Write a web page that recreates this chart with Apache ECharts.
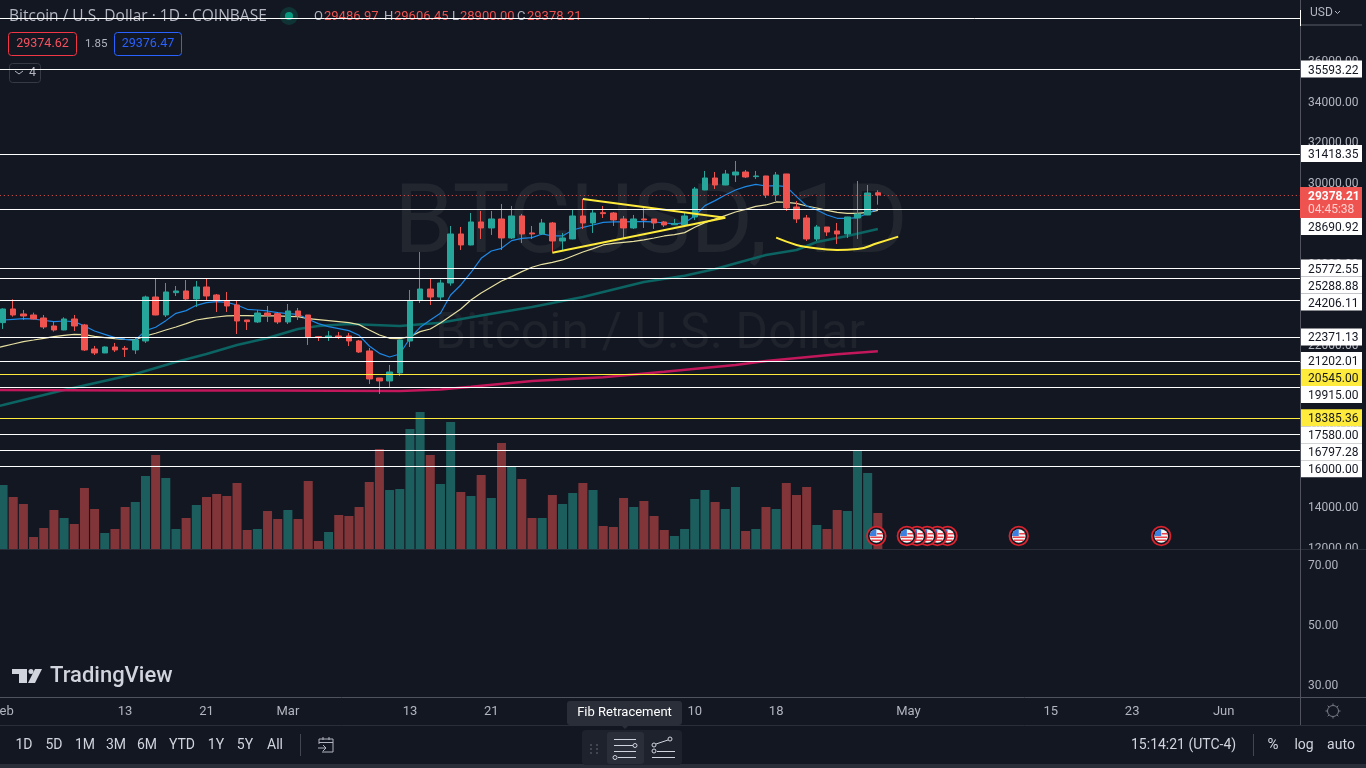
<!DOCTYPE html>
<html>
<head>
<meta charset="utf-8">
<title>BTCUSD</title>
<style>
  html, body { margin: 0; padding: 0; background: #131722; }
  #view { width: 1366px; height: 768px; }
</style>
<script src="https://cdn.jsdelivr.net/npm/echarts@6/dist/echarts.min.js"></script>
</head>
<body>
<div id="view"></div>
<script>
// daily candles, Feb 1 to Apr 28
var opens = [23076,23750,23504,23454,23306,22911,22714,23257,22961,21776,
  21579,21875,21809,21727,22171,24342,23454,24556,24639,24244,
  24836,24441,24162,23948,23207,23109,23553,23520,23109,23652,
  23454,22385,22369,22418,22418,22171,21678,20345,20197,20592,
  22171,24194,24737,24342,25033,27453,26910,28045,27749,28193,
  27255,28341,27502,27453,27995,27107,27206,28341,27995,28505,
  28489,28193,27749,28193,28193,28045,27913,27897,28292,29624,
  30216,29871,30364,30512,30282,30315,29377,30414,28785,28242,
  27206,27798,27601,27453,28242,28390,29486.97]
var closes = [23750,23454,23405,23257,22862,22714,23257,22911,21727,21579,
  21875,21727,21760,22220,24342,23454,24589,24639,24244,24836,
  24392,24194,23898,23158,23125,23553,23438,23109,23652,23405,
  22369,22352,22418,22352,22171,21628,20296,20197,20641,22220,
  24162,24737,24342,25033,27453,26910,28045,27749,28193,27255,
  28341,27453,27453,27995,27107,27255,28341,27995,28489,28456,
  28143,27749,28193,28143,27995,27897,27962,28341,29673,30216,
  29871,30414,30512,30265,30315,29377,30364,28736,28193,27206,
  27798,27551,27453,28292,28440,29476,29378.21]
var highs = [23783,24227,23701,23569,23454,23125,23339,23454,23010,21924,
  21908,22072,21924,22352,24408,25231,25033,24885,25181,25132,
  25231,24491,24589,24145,23207,23701,23898,23602,23997,23800,
  23454,22418,22665,22615,22566,22220,21826,20345,20987,22240,
  24688,26563,25231,25200,27847,27798,28489,28588,28588,28933,
  28834,28440,27847,28193,28045,27502,28637,29180,28637,28834,
  28538,28341,28390,28785,28193,28094,28193,28489,29772,30562,
  30512,30611,31055,30611,30562,30320,30512,30420,29081,28390,
  27897,27800,27995,28300,30068,29871,29606.45]
var lows = [22763,23372,23207,23230,22763,22632,22700,22665,21678,21480,
  21570,21628,21381,21530,22072,23440,23355,24392,24194,23849,
  24194,23602,23602,22517,22714,23059,23109,23010,23010,23207,
  21974,22171,22171,22270,21924,21579,20049,19556,19901,20444,
  21875,24046,23948,24190,24900,26663,26890,27206,27403,26663,
  27206,27008,27206,27403,26564,26663,27190,27699,27502,28242,
  27847,27255,27699,27749,27699,27798,27897,27890,28143,29610,
  29673,29860,30019,30216,30167,29229,29081,28588,27995,27107,
  27107,27354,26959,27255,27206,28380,28900]
var volumes = [6400,5200,4500,1200,2100,3900,3100,2500,6100,4000,
  1600,2000,4200,4700,7300,9400,7100,2000,3100,4400,
  5200,5500,5300,6600,1900,2000,3800,3000,3900,3000,
  6800,800,1700,3400,3300,4200,6700,10000,5900,6000,
  12000,13700,9400,6500,12700,5700,5300,7400,5100,10600,
  8200,7000,3100,3100,5400,4500,5600,6600,5900,2300,
  2200,5100,4200,4800,3300,1900,1300,2000,5000,5900,
  4700,4000,6200,1800,2000,4200,4000,6600,5400,6200,
  2400,2000,3900,3800,9800,7600,3600]

// moving averages, one reading per bar, starting one bar off the left edge (Jan 31)
var blueLine = [23190,23207,23240,23273,23257,23191,23125,23158,23125,22911,22665,
  22500,22336,22253,22204,22681,22846,23175,23537,23668,23931,
  24063,24112,24079,23948,23734,23701,23652,23569,23520,23487,
  23240,23027,22879,22780,22681,22451,21924,21562,21381,21530,
  22303,22846,23207,23537,24441,24934,25551,26252,26614,26745,
  27124,27239,27272,27453,27354,27354,27650,27782,27897,28028,
  28045,28045,28061,28061,28045,27995,27946,28012,28341,28851,
  29098,29377,29624,29789,29904,29821,29838,29789,29295,28834,
  28637,28390,28226,28226,28259,28472,28686]
var creamLine = [21790,21908,22023,22138,22220,22303,22385,22451,22500,22484,22401,
  22336,22286,22253,22237,22418,22550,22714,22862,23027,23207,
  23290,23355,23405,23421,23421,23405,23405,23405,23388,23372,
  23273,23224,23175,23125,23076,22977,22714,22467,22303,22286,
  22385,22632,22763,23060,23404,23750,24194,24539,24835,25132,
  25347,25594,25808,25956,26054,26170,26367,26564,26729,26910,
  26992,27041,27091,27157,27255,27354,27420,27518,27782,28012,
  28193,28357,28538,28670,28818,28884,29032,29015,28966,28834,
  28736,28621,28522,28473,28473,28522,28621]
// slower averages, read at the bars where they bend (bar 1 is Feb 1)
var tealBars = [0,1,7,14,18,21,24,27,30,32,35,40,44,48,53,58,64,68,71,76,79,81,84,87]
var tealValues = [18900,19011,19751,20541,21133,21528,21973,22318,22762,22910,23009,22910,23073,23428,23848,24342,25082,25393,25724,26415,26662,27057,27353,27698]
var pinkBars = [0,14,27,40,44,47,53,60,66,73,76,83,87]
var pinkValues = [19751,19727,19727,19702,19776,19914,20196,20378,20655,20985,21183,21514,21662]

// hand drawn lines on the chart
var wedgeUpperBars = [58,72]
var wedgeUpperValues = [29179,28256]
var wedgeLowerBars = [55,72]
var wedgeLowerValues = [26528,28256]
var cupBars = [77,79,80,83,85,87,89]
var cupValues = [27269,26908,26810,26662,26711,27007,27320]

var topLevel = 38113
var levelValues = [35593.22,31418.35,28690.92,25772.55,25288.88,24206.11,22371.13,21202.01,20545.00,19915.00,18385.36,17580.00,16797.28,16000.00]
var yellowLevels = [20545.00,18385.36]

var priceTicks = [36000,34000,32000,30000,28000,26000,24000,22000,20000,18000,16000,14000,12000]
var oscTicks = [70,50,30]

var monthNames = ['Feb','Mar','Apr','May','Jun']
var monthLengths = [28,31,30,31,8]
var tickDates = ['Feb 1','Feb 13','Feb 21','Mar 1','Mar 13','Mar 21','Apr 1','Apr 10','Apr 18','May 1','May 15','May 23','Jun 1']
var tickLabels = ['Feb','13','21','Mar','13','21','Apr','10','18','May','15','23','Jun']
var eventDates = ['May 26','May 12','May 5','May 4','May 3','May 2','May 1','Apr 28']

var categories = ['Jan 31']
monthNames.forEach(function (name, m) {
  for (var d = 1; d <= monthLengths[m]; d++) categories.push(name + ' ' + d)
})

var BG = '#131722'
var UP = '#26a69a'
var DOWN = '#ef5350'
var FONT = 'Roboto, sans-serif'
var lastClose = closes[closes.length - 1]

var priceMin = 11903, priceMax = 39001
var paneH = 549
var pxPerPrice = paneH / (priceMax - priceMin)
function priceY (p) { return (priceMax - p) * pxPerPrice }

// price tags get pushed down when they would sit on top of each other
var tagH = 17
var tagY = []
var floorY = -100
var lastDone = false
levelValues.forEach(function (v) {
  if (!lastDone && v < lastClose) {
    floorY = priceY(lastClose) + 23 + tagH / 2
    lastDone = true
  }
  var y = Math.max(priceY(v), floorY)
  tagY.push(y)
  floorY = y + tagH
})

function pts (bars, values) {
  return bars.map(function (b, i) { return [b, values[i]] })
}

function txt (x, y, s, color, size, align, weight, family) {
  return { type: 'text', z: 1, style: { x: x, y: y, text: s, fill: color, font: (weight || 'normal') + ' ' + size + 'px ' + (family || FONT), textAlign: align || 'left', textVerticalAlign: 'middle' } }
}
function box (x, y, w, h, fill, stroke, r, z) {
  return { type: 'rect', z: z || 1, shape: { x: x, y: y, width: w, height: h, r: r || 0 }, style: { fill: fill || 'none', stroke: stroke || 'none', lineWidth: 1 } }
}
function seg (x1, y1, x2, y2, color, z) {
  return { type: 'line', z: z || 1, shape: { x1: x1, y1: y1, x2: x2, y2: y2 }, style: { stroke: color, lineWidth: 1 } }
}
function dot (x, y, r, fill, stroke, z) {
  return { type: 'circle', z: z || 1, shape: { cx: x, cy: y, r: r }, style: { fill: fill || 'none', stroke: stroke || 'none', lineWidth: 1 } }
}
function above (el) { el.z = 30; return el }

// axis numbers sit a little under their tick, as on the original scale
function axisPrice (v) { return '{n|' + v.toFixed(2) + '}' }
var axisRich = { n: { color: '#b2b5be', fontSize: 12, fontFamily: FONT, padding: [3, 0, 0, 0] } }

var gfx = []
// watermark
gfx.push({ type: 'text', z: 0, style: { x: 651, y: 228, text: 'BTCUSD, 1D', fill: '#22262f', font: '96px ' + FONT, textAlign: 'center', textVerticalAlign: 'middle' } })
gfx.push({ type: 'text', z: 0, style: { x: 650, y: 335, text: 'Bitcoin / U.S. Dollar', fill: '#1f232c', font: '50px ' + FONT, textAlign: 'center', textVerticalAlign: 'middle' } })
// header
gfx.push(txt(9, 17, 'Bitcoin / U.S. Dollar · 1D · COINBASE', '#b2b5be', 15.5, 'left', 'normal', '"Open Sans", sans-serif'))
gfx.push(dot(289, 16, 9, 'rgba(8,153,129,0.22)'))
gfx.push(dot(289, 16, 4, '#089981'))
var ohlcLabels = ['O', 'H', 'L', 'C']
var ohlcValues = [opens[86], highs[86], lows[86], lastClose]
var ohlcX = [314, 384, 452, 517]
ohlcLabels.forEach(function (l, i) {
  gfx.push(txt(ohlcX[i], 17, l, '#b2b5be', 13))
  gfx.push(txt(ohlcX[i] + (i == 2 ? 8 : 10), 17, ohlcValues[i].toFixed(2), DOWN, 13))
})
gfx.push(box(8.5, 32.5, 68, 23, 'none', '#f23645', 3))
gfx.push(txt(42.5, 44, '29374.62', '#f7525f', 12.5, 'center'))
gfx.push(txt(85, 44, '1.85', '#b2b5be', 11.5))
gfx.push(box(114.5, 32.5, 67, 23, 'none', '#2962ff', 3))
gfx.push(txt(148, 44, '29376.47', '#2962ff', 12.5, 'center'))
gfx.push(box(9.5, 63.5, 31, 19, BG, '#363a45', 3))
gfx.push({ type: 'polyline', z: 1, shape: { points: [[15, 71], [19, 74], [23, 71]] }, style: { stroke: '#b2b5be', fill: 'none', lineWidth: 1 } })
gfx.push(txt(29, 73, '4', '#b2b5be', 12.5))
// logo
gfx.push(box(12, 669, 15, 5, '#d1d4dc', null, 0, 2))
gfx.push(box(19, 669, 8, 14, '#d1d4dc', null, 0, 2))
gfx.push(dot(31, 671.5, 2.5, '#d1d4dc', null, 2))
gfx.push({ type: 'polygon', z: 2, shape: { points: [[35, 669], [42, 669], [35, 683], [28, 683]] }, style: { fill: '#d1d4dc' } })
gfx.push(txt(50, 676, 'TradingView', '#d1d4dc', 22, 'left', '500'))
// pane borders
gfx.push(above(box(1301, 550, 65, 6, BG)))
gfx.push(above(seg(0, 549.5, 1366, 549.5, '#2a2e39')))
gfx.push(above(seg(0, 697.5, 1366, 697.5, '#50535e')))
gfx.push(above(seg(1300.5, 0, 1300.5, 725, '#50535e')))
gfx.push(above(seg(0, 725.5, 1366, 725.5, '#2a2e39')))
gfx.push(above(box(0, 764, 1366, 4, '#2a2e39')))
// price scale top
gfx.push(above(box(1301, 0, 65, 24, BG)))
gfx.push(above(txt(1310, 13, 'USD', '#b2b5be', 12)))
gfx.push(above({ type: 'polyline', shape: { points: [[1335, 11], [1337.5, 13.5], [1340, 11]] }, style: { stroke: '#b2b5be', fill: 'none', lineWidth: 1 } }))
gfx.push(above(box(1301, 24, 61, 2, '#363a45')))
gfx.push(above(seg(1300.5, 10, 1300.5, 26, '#ffffff')))
// last price tag
gfx.push(above(box(1300, priceY(lastClose) - 8, 62, 31, DOWN)))
gfx.push(above(txt(1308, priceY(lastClose) + 2.5, lastClose.toFixed(2), '#ffffff', 12, 'left', 'bold')))
gfx.push(above(txt(1308, priceY(lastClose) + 15, '04:45:38', '#ffd0cf', 12)))
// gear
gfx.push(above(dot(1333, 711, 5.5, 'none', '#787b86')))
var gearAngles = [0, 45, 90, 135, 180, 225, 270, 315]
gearAngles.forEach(function (a) {
  var c = Math.cos(a * Math.PI / 180), s = Math.sin(a * Math.PI / 180)
  gfx.push(above(seg(1333 + c * 5.5, 711 + s * 5.5, 1333 + c * 7.5, 711 + s * 7.5, '#787b86')))
})
// range buttons
var rangeNames = ['1D', '5D', '1M', '3M', '6M', 'YTD', '1Y', '5Y', 'All']
var rangeX = [24, 54, 85, 116, 147, 182, 216, 245, 275]
rangeNames.forEach(function (r, i) {
  gfx.push(above(txt(rangeX[i], 745, r, '#d1d4dc', 14, 'center')))
})
gfx.push(above(seg(300.5, 734, 300.5, 756, '#434651')))
// go to date icon
gfx.push(above({ type: 'polyline', shape: { points: [[319, 744], [319, 739], [333, 739], [333, 752], [322, 752]] }, style: { stroke: '#b2b5be', fill: 'none', lineWidth: 1 } }))
gfx.push(above(seg(319, 742.5, 333, 742.5, '#b2b5be')))
gfx.push(above(seg(323, 737, 323, 740, '#b2b5be')))
gfx.push(above(seg(329, 737, 329, 740, '#b2b5be')))
gfx.push(above(seg(318, 748, 326, 748, '#b2b5be')))
gfx.push(above({ type: 'polyline', shape: { points: [[323, 745], [326, 748], [323, 751]] }, style: { stroke: '#b2b5be', fill: 'none', lineWidth: 1 } }))
// drawing toolbar and its tooltip
gfx.push(above(box(582, 730, 100, 35, '#1e222d', null, 4)))
gfx.push(above(box(607, 732, 37, 32, '#2a2e39', null, 3)))
var gripY = [744, 748, 752]
gripY.forEach(function (y) {
  gfx.push(above(box(590, y, 2, 2, '#434651')))
  gfx.push(above(box(596, y, 2, 2, '#434651')))
})
gfx.push(above(seg(614, 739.5, 636, 739.5, '#d1d4dc')))
gfx.push(above(seg(614, 745.5, 633, 745.5, '#d1d4dc')))
gfx.push(above(dot(635, 745.5, 2, 'none', '#d1d4dc')))
gfx.push(above(seg(614, 751.5, 636, 751.5, '#d1d4dc')))
gfx.push(above(dot(615, 757.5, 2, 'none', '#d1d4dc')))
gfx.push(above(seg(618, 757.5, 636, 757.5, '#d1d4dc')))
gfx.push(above(dot(670, 739, 2, 'none', '#d1d4dc')))
gfx.push(above(dot(654, 745, 2, 'none', '#d1d4dc')))
gfx.push(above(dot(654, 751, 2, 'none', '#d1d4dc')))
gfx.push(above(seg(656, 744, 668, 740, '#d1d4dc')))
gfx.push(above(seg(657, 751.5, 675, 751.5, '#d1d4dc')))
gfx.push(above(seg(652, 757.5, 675, 757.5, '#d1d4dc')))
gfx.push(above(box(567, 701, 115, 24, '#2a2e39', null, 3)))
gfx.push(above({ type: 'polygon', shape: { points: [[621, 725], [629, 725], [625, 729]] }, style: { fill: '#2a2e39' } }))
gfx.push(above(txt(624.5, 713, 'Fib Retracement', '#ffffff', 13, 'center')))
// right of the bottom bar
gfx.push(above(txt(1131, 745, '15:14:21 (UTC-4)', '#d1d4dc', 14)))
gfx.push(above(seg(1253.5, 734, 1253.5, 756, '#434651')))
gfx.push(above(txt(1273, 745, '%', '#d1d4dc', 15, 'center')))
gfx.push(above(txt(1304, 745, 'log', '#d1d4dc', 14, 'center')))
gfx.push(above(txt(1341, 745, 'auto', '#d1d4dc', 14, 'center')))

function renderLevel (params, api) {
  var i = api.value(0)
  var v = levelValues[i]
  var yLine = Math.round(api.coord([0, v])[1]) + 0.5
  var yellow = yellowLevels.indexOf(v) >= 0
  var tagTop = tagY[i] - tagH / 2
  return {
    type: 'group',
    children: [
      { type: 'line', shape: { x1: 0, y1: yLine, x2: 1300, y2: yLine }, style: { stroke: yellow ? '#ffeb3b' : '#ffffff', lineWidth: 1 } },
      { type: 'rect', shape: { x: 1300, y: tagTop, width: 62, height: tagH }, style: { fill: yellow ? '#ffeb3b' : '#ffffff' } },
      { type: 'text', style: { x: 1308, y: tagY[i] + 1.5, text: v.toFixed(2), fill: '#131722', font: '12px ' + FONT, textVerticalAlign: 'middle' } }
    ]
  }
}

function renderEvent (params, api) {
  var c = api.coord([api.value(0), api.value(1)])
  return {
    type: 'group',
    x: c[0] - 1.5,
    y: c[1],
    children: [
      { type: 'circle', shape: { cx: 0, cy: 0, r: 9.3 }, style: { fill: '#131722', stroke: '#d9232e', lineWidth: 1.8 } },
      { type: 'circle', shape: { cx: 0, cy: 0, r: 6.8 }, style: { fill: '#f4f4f4' } },
      { type: 'rect', shape: { x: -6, y: 0.5, width: 12, height: 1.5 }, style: { fill: '#e8434c' } },
      { type: 'rect', shape: { x: -5, y: 3.5, width: 10, height: 1.5 }, style: { fill: '#e8434c' } },
      { type: 'rect', shape: { x: 0.5, y: -3, width: 6, height: 1.5 }, style: { fill: '#e8434c' } },
      { type: 'sector', shape: { cx: 0, cy: 0, r: 6.8, r0: 0, startAngle: Math.PI, endAngle: Math.PI * 1.5, clockwise: true }, style: { fill: '#3d7fe0' } }
    ]
  }
}

var mychart = echarts.init(document.getElementById('view'), null, { renderer: 'canvas' })
var options = {
  animation: false,
  backgroundColor: BG,
  graphic: gfx,
  grid: [
    { left: -12.2, top: 0, width: 1312.2, height: paneH, outerBoundsMode: 'none' },
    { left: -12.2, top: paneH, width: 1312.2, height: 148, outerBoundsMode: 'none' }
  ],
  xAxis: [
    { type: 'category', gridIndex: 0, data: categories, axisLine: { show: false }, axisTick: { show: false }, axisLabel: { show: false }, splitLine: { show: false } },
    {
      type: 'category', gridIndex: 1, data: categories,
      axisLine: { show: false }, axisTick: { show: false }, splitLine: { show: false },
      axisLabel: {
        color: '#b2b5be', fontSize: 13, fontFamily: FONT, margin: 8, hideOverlap: false,
        interval: function (i, v) { return tickDates.indexOf(v) >= 0 },
        formatter: function (v) { return tickLabels[tickDates.indexOf(v)] }
      }
    }
  ],
  yAxis: [
    {
      type: 'value', gridIndex: 0, position: 'right', min: priceMin, max: priceMax, scale: true,
      axisLine: { show: false }, axisTick: { show: false }, splitLine: { show: false },
      axisLabel: { customValues: priceTicks, margin: 8, rich: axisRich, formatter: axisPrice }
    },
    { type: 'value', gridIndex: 0, min: 0, max: 54900, show: false },
    {
      type: 'value', gridIndex: 1, position: 'right', min: 25.67, max: 75,
      axisLine: { show: false }, axisTick: { show: false }, splitLine: { show: false },
      axisLabel: { customValues: oscTicks, margin: 8, rich: axisRich, formatter: axisPrice }
    }
  ],
  series: [
    {
      type: 'bar', name: 'Volume', xAxisIndex: 0, yAxisIndex: 1, barWidth: 9, z: 2, silent: true,
      data: ['-'].concat(volumes.map(function (v, i) {
        return { value: v, itemStyle: { color: closes[i] >= opens[i] ? 'rgba(38,166,154,0.5)' : 'rgba(239,83,80,0.5)' } }
      }))
    },
    { type: 'line', name: 'MA teal', xAxisIndex: 0, yAxisIndex: 0, z: 3, silent: true, showSymbol: false, data: pts(tealBars, tealValues), lineStyle: { color: '#0b6362', width: 2.5 } },
    { type: 'line', name: 'MA pink', xAxisIndex: 0, yAxisIndex: 0, z: 3, silent: true, showSymbol: false, data: pts(pinkBars, pinkValues), lineStyle: { color: '#c2185b', width: 2.5 } },
    { type: 'line', name: 'MA cream', xAxisIndex: 0, yAxisIndex: 0, z: 3, silent: true, showSymbol: false, data: creamLine, lineStyle: { color: '#e6dfa0', width: 1.2 } },
    { type: 'line', name: 'MA blue', xAxisIndex: 0, yAxisIndex: 0, z: 3, silent: true, showSymbol: false, data: blueLine, lineStyle: { color: '#1e88e5', width: 1.2 } },
    {
      type: 'candlestick', name: 'BTCUSD', xAxisIndex: 0, yAxisIndex: 0, barWidth: 6, z: 4, silent: true,
      data: ['-'].concat(opens.map(function (o, i) { return [o, closes[i], lows[i], highs[i]] })),
      itemStyle: { color: UP, color0: DOWN, borderColor: UP, borderColor0: DOWN, borderWidth: 1 },
      markLine: {
        silent: true, symbol: 'none', label: { show: false },
        lineStyle: { color: DOWN, type: [1, 3], width: 1 },
        data: [{ yAxis: lastClose }]
      }
    },
    { type: 'line', name: 'Wedge upper', xAxisIndex: 0, yAxisIndex: 0, z: 6, silent: true, showSymbol: false, data: pts(wedgeUpperBars, wedgeUpperValues), lineStyle: { color: '#ffeb3b', width: 2 } },
    { type: 'line', name: 'Wedge lower', xAxisIndex: 0, yAxisIndex: 0, z: 6, silent: true, showSymbol: false, data: pts(wedgeLowerBars, wedgeLowerValues), lineStyle: { color: '#ffeb3b', width: 2 } },
    { type: 'line', name: 'Cup', xAxisIndex: 0, yAxisIndex: 0, z: 6, silent: true, showSymbol: false, smooth: 0.5, data: pts(cupBars, cupValues), lineStyle: { color: '#ffeb3b', width: 2 } },
    {
      type: 'custom', name: 'Levels', xAxisIndex: 0, yAxisIndex: 0, z: 10, silent: true,
      renderItem: renderLevel,
      data: levelValues.map(function (v, i) { return [i, v] })
    },
    {
      type: 'line', name: 'Top level', xAxisIndex: 0, yAxisIndex: 0, z: 10, silent: true, showSymbol: false,
      data: [],
      markLine: { silent: true, symbol: 'none', label: { show: false }, lineStyle: { color: '#ffffff', type: 'solid', width: 1 }, data: [{ yAxis: topLevel }] }
    },
    {
      type: 'custom', name: 'Events', xAxisIndex: 0, yAxisIndex: 0, z: 12, silent: true,
      renderItem: renderEvent,
      data: eventDates.map(function (d) { return [categories.indexOf(d), 12545] })
    }
  ]
}
mychart.setOption(options)
</script>
</body>
</html>
